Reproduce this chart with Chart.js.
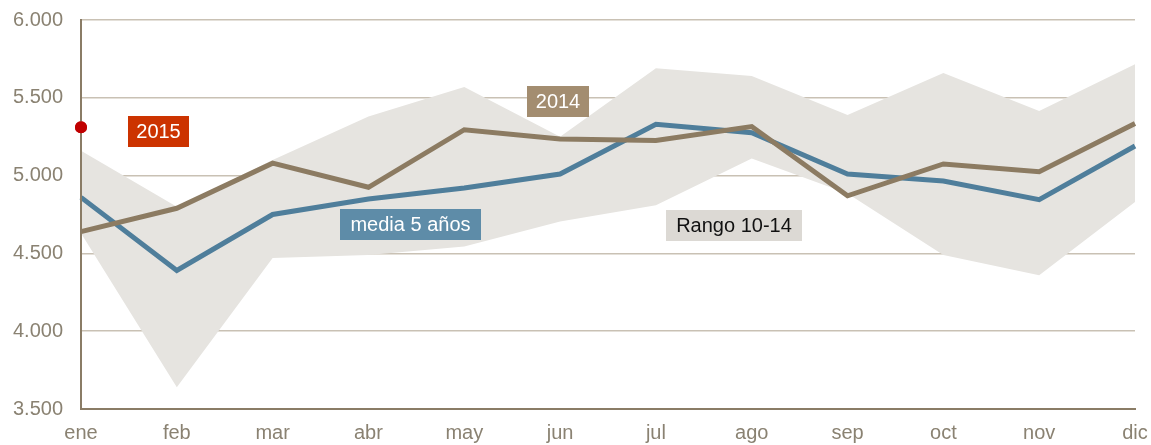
<!DOCTYPE html>
<html lang="es">
<head>
<meta charset="utf-8">
<title>Serie mensual</title>
<script src="https://cdn.jsdelivr.net/npm/chart.js@4/dist/chart.umd.min.js"></script>
<style>
  html, body { margin: 0; padding: 0; background: #ffffff; }
  #wrap { width: 1151px; height: 445px; position: relative; }
</style>
</head>
<body>
<div id="wrap"><canvas id="c" width="1151" height="445"></canvas></div>
<script>
// Months
const months = ['ene', 'feb', 'mar', 'abr', 'may', 'jun', 'jul', 'ago', 'sep', 'oct', 'nov', 'dic'];

// Monthly series
const serie2014 = [4640, 4790, 5080, 4925, 5295, 5235, 5225, 5315, 4870, 5075, 5025, 5335];
const media5 = [4860, 4390, 4750, 4850, 4920, 5010, 5330, 5275, 5010, 4965, 4845, 5190];
const serie2015 = [5310, null, null, null, null, null, null, null, null, null, null, null];

// 2010-2014 range (upper and lower bounds)
const rangoMax = [5160, 4800, 5100, 5380, 5570, 5250, 5690, 5640, 5390, 5660, 5415, 5715];
const rangoMin = [4630, 3640, 4470, 4490, 4545, 4705, 4810, 5110, 4885, 4490, 4360, 4830];

// Y axis ticks
const yTicks = [3500, 4000, 4500, 5000, 5500, 6000];

const FONT = "'Liberation Sans', Arial, sans-serif";
const TICK_COLOR = '#8a8272';

// Text boxes naming each series
const seriesLabels = [
  { text: '2015',          left: 128, top: 116, w: 61,  h: 31, bg: '#cc3300', fg: '#ffffff' },
  { text: '2014',          left: 527, top: 86,  w: 62,  h: 31, bg: '#a38d70', fg: '#ffffff' },
  { text: 'media 5 años',  left: 340, top: 209, w: 141, h: 31, bg: '#5e8ca8', fg: '#ffffff' },
  { text: 'Rango 10-14',   left: 666, top: 210, w: 136, h: 31, bg: '#dcd9d4', fg: '#111111' }
];

const labelBoxes = {
  id: 'labelBoxes',
  afterDatasetsDraw(chart) {
    const ctx = chart.ctx;
    ctx.save();
    ctx.font = '20px ' + FONT;
    ctx.textAlign = 'center';
    ctx.textBaseline = 'middle';
    for (const l of seriesLabels) {
      ctx.fillStyle = l.bg;
      ctx.fillRect(l.left, l.top, l.w, l.h);
      ctx.fillStyle = l.fg;
      ctx.fillText(l.text, l.left + l.w / 2, l.top + l.h / 2 + 1);
    }
    ctx.restore();
  },
  // the 2015 point sits on top of the axis line
  afterDraw(chart) {
    const meta = chart.getDatasetMeta(0);
    const ctx = chart.ctx;
    meta.data.forEach((pt, i) => {
      if (serie2015[i] !== null) pt.draw(ctx);
    });
  }
};

const fmt = v => String(v).replace(/\B(?=(\d{3})+(?!\d))/g, '.');

new Chart(document.getElementById('c'), {
  type: 'line',
  data: {
    labels: months,
    datasets: [
      {
        label: '2015',
        data: serie2015,
        borderColor: '#c00000',
        backgroundColor: '#c00000',
        pointRadius: 6,
        pointBorderWidth: 0,
        showLine: false,
        clip: false,
        order: 0
      },
      {
        label: '2014',
        data: serie2014,
        borderColor: '#8c7b62',
        borderWidth: 5,
        pointRadius: 0,
        tension: 0,
        fill: false,
        order: 1
      },
      {
        label: 'media 5 años',
        data: media5,
        borderColor: '#4f7e9b',
        borderWidth: 5,
        pointRadius: 0,
        tension: 0,
        fill: false,
        order: 2
      },
      {
        label: 'Rango max',
        data: rangoMax,
        borderWidth: 0,
        borderColor: 'rgba(0,0,0,0)',
        backgroundColor: '#e6e4e0',
        pointRadius: 0,
        tension: 0,
        fill: '+1',
        order: 3
      },
      {
        label: 'Rango min',
        data: rangoMin,
        borderWidth: 0,
        borderColor: 'rgba(0,0,0,0)',
        pointRadius: 0,
        tension: 0,
        fill: false,
        order: 4
      }
    ]
  },
  options: {
    responsive: false,
    animation: false,
    events: [],
    layout: { padding: { top: 20, right: 16, left: 0, bottom: 0 } },
    plugins: {
      legend: { display: false },
      tooltip: { enabled: false },
      title: { display: false }
    },
    scales: {
      x: {
        offset: false,
        grid: { display: false, drawTicks: false },
        border: { display: true, color: '#8a7c66', width: 2, z: 1 },
        ticks: {
          color: TICK_COLOR,
          font: { family: FONT, size: 20 },
          padding: 12,
          maxRotation: 0,
          autoSkip: false
        },
        afterFit(scale) {
          scale.height = 36;
          scale.paddingLeft = 0;
          scale.paddingRight = 0;
        }
      },
      y: {
        min: 3500,
        max: 6000,
        afterBuildTicks(scale) { scale.ticks = yTicks.map(v => ({ value: v })); },
        grid: { color: '#c9c1b4', lineWidth: 1.5, drawTicks: false },
        border: { display: true, color: '#8a7c66', width: 2, z: 1 },
        ticks: {
          color: TICK_COLOR,
          font: { family: FONT, size: 20 },
          padding: 18,
          callback: v => fmt(v)
        },
        afterFit(scale) {
          scale.width = 81;
          scale.paddingTop = 0;
          scale.paddingBottom = 0;
        }
      }
    }
  },
  plugins: [labelBoxes]
});
</script>
</body>
</html>
